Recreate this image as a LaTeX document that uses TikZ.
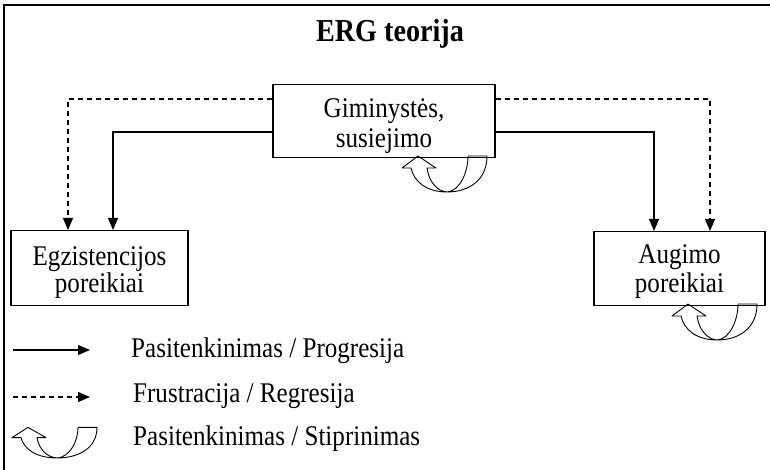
\documentclass[tikz,border=0pt]{standalone}
\usepackage{fontspec}
\setmainfont{Liberation Serif}
\newfontfamily\diagfont{Liberation Serif}[FakeStretch=0.88]
\usetikzlibrary{arrows.meta, positioning}

\begin{document}
\begin{tikzpicture}[x=1pt,y=-1pt,
  need/.style={draw,line width=1.1pt,align=center,inner sep=0pt,
    font=\diagfont\fontsize{28.5}{27}\selectfont},
  flow/.style={line width=1.1pt,-{Triangle[length=12pt,width=10pt]}},
  regress/.style={flow,dash pattern=on 5pt off 4pt},
  legtext/.style={anchor=base west,inner sep=0pt,font=\diagfont\fontsize{28.5}{27}\selectfont},
  loop arrow/.pic={
    \draw[line width=0.9pt,line join=round]
      (21,-36) -- (40,-36) .. controls (40,-12) and (22,0) .. (0,0)
      .. controls (-20,0) and (-33,-10) .. (-36,-24) -- (-45,-24) -- (-29,-36)
      -- (-11,-24) -- (-20,-24) .. controls (-18,-10) and (-10,-1) .. (0,0)
      .. controls (13,-1) and (21,-20) .. (21,-36);
  }]
\useasboundingbox (0,0) rectangle (770,470);
\draw[line width=1.4pt] (4,470) -- (4,5) -- (770,5);

\node[font=\diagfont\fontsize{32}{34}\selectfont\bfseries,anchor=base,inner sep=0pt] (title) at (390,42) {ERG teorija};

\node[need,minimum width=222pt,text height=63pt,text depth=10pt,anchor=north] (gim) at (384,84) {Giminystės,\\[3pt]susiejimo};
\node[need,minimum width=177pt,text height=62pt,text depth=13pt,anchor=north] (egz) at (99.5,230) {Egzistencijos\\poreikiai};
\node[need,minimum width=171pt,text height=61pt,text depth=13pt,anchor=north] (aug) at (679.5,231) {Augimo\\[2pt]poreikiai};

\draw[regress] (gim.west |- 0,99) -| (68,0 |- egz.north);
\draw[flow] (gim.west |- 0,132) -| (113,0 |- egz.north);
\draw[flow] (gim.east |- 0,132) -| (654,0 |- aug.north);
\draw[regress] (gim.east |- 0,99) -| (710,0 |- aug.north);

\pic (gimloop) at (447,192) {loop arrow};
\pic (augloop) at (717,340) {loop arrow};

% legend
\coordinate (sfrom) at (13,350);
\coordinate (sto) at (90,350);
\coordinate (dfrom) at (13,397);
\coordinate (dto) at (90,397);
\draw[flow] (sfrom) -- (sto);
\draw[regress] (dfrom) -- (dto);
\pic[yscale=0.85] (legloop) at (57,458) {loop arrow};

\node[legtext] (lprog) at (131,357) {Pasitenkinimas / Progresija};
\node[legtext] (lfrus) at (133,402) {Frustracija / Regresija};
\node[legtext] (lstip) at (133,445) {Pasitenkinimas / Stiprinimas};
\end{tikzpicture}
\end{document}
